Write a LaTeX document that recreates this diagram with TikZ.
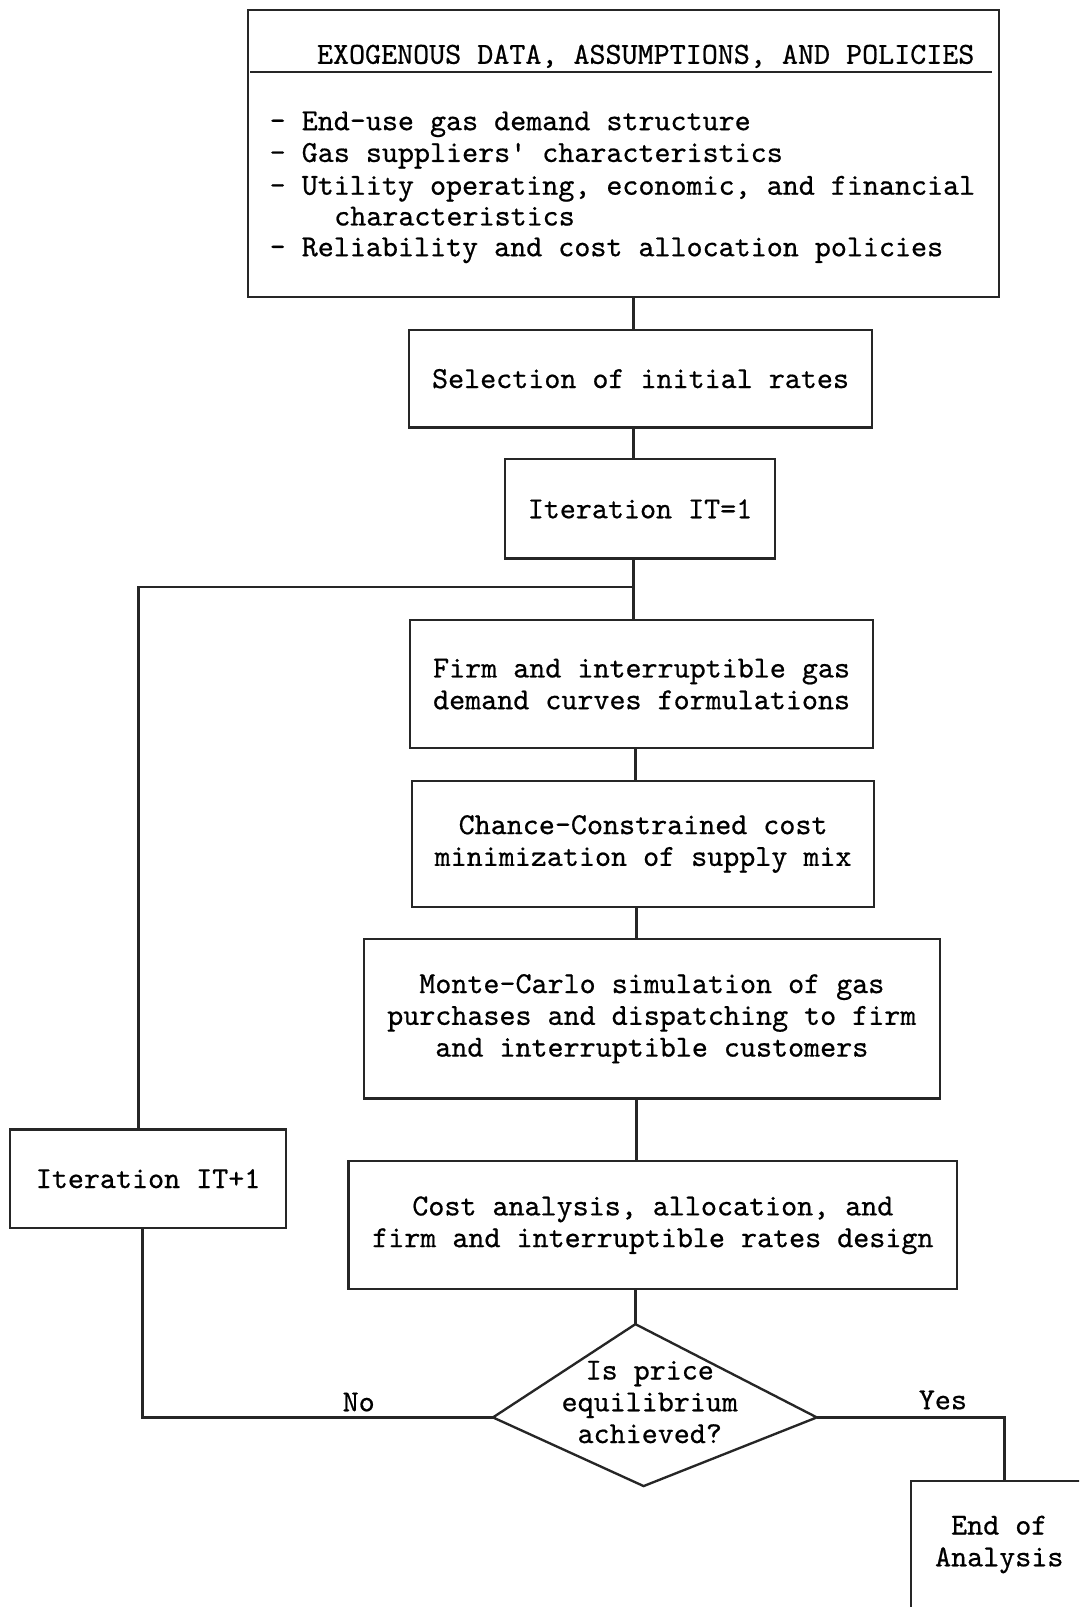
\documentclass[tikz,border=0pt]{standalone}
\usepackage{fontspec}
\usetikzlibrary{shapes.geometric}
\newfontfamily\tyface{lmmono10-regular.otf}[FakeBold=0.6]
\newcommand\tyfont{\tyface\fontsize{29.8}{31}\selectfont}
\begin{document}
\begin{tikzpicture}[x=1pt,y=-1pt,
  line width=2.3pt, draw=black!85,
  box/.style={draw=black!85, rectangle, inner sep=0pt, align=center, font=\tyfont},
  lbl/.style={font=\tyfont, inner sep=0pt},
  lline/.style={font=\tyfont, inner sep=0pt, anchor=base west}]
\useasboundingbox (0,0) rectangle (1053,1568);
\clip (0,0) rectangle (1053,1568);
% column coordinates
\coordinate (x618) at (618,0);
\coordinate (x620) at (620,0);
\coordinate (x621) at (621,0);
\coordinate (lx) at (135,573);
\coordinate (jn) at (618,573);
\coordinate (nx) at (139,0);
\coordinate (ex) at (980,0);
% top box
\node[box, minimum width=733pt, minimum height=280pt] (exo) at (608.5,150) {};
\node[lbl] (exoh) at (630,55) {EXOGENOUS DATA, ASSUMPTIONS, AND POLICIES};
\coordinate (ul1) at (244,70);
\coordinate (ul2) at (968,70);
\draw[line width=1.6pt] (ul1) -- (ul2);
\node[lline] (l1) at (262,127) {- End-use gas demand structure};
\node[lline] (l2) at (262,158) {- Gas suppliers' characteristics};
\node[lline] (l3) at (262,190) {- Utility operating, economic, and financial};
\node[lline] (l4) at (325,220) {characteristics};
\node[lline] (l5) at (262,250) {- Reliability and cost allocation policies};
% process boxes
\node[box, minimum width=452pt, minimum height=95pt] (sel) at (625,369.5) {Selection of initial rates};
\node[box, minimum width=263pt, minimum height=97pt] (it1) at (624.5,496.5) {Iteration IT=1};
\node[box, minimum width=452pt, minimum height=125pt] (firm) at (626,667.5) {Firm and interruptible gas\\demand curves formulations};
\node[box, minimum width=451pt, minimum height=123pt] (chance) at (627.5,823.5) {Chance-Constrained cost\\minimization of supply mix};
\node[box, minimum width=562pt, minimum height=156pt] (monte) at (636,994) {Monte-Carlo simulation of gas\\purchases and dispatching to firm\\and interruptible customers};
\node[box, minimum width=594pt, minimum height=125pt] (cost) at (637,1195.5) {Cost analysis, allocation, and\\firm and interruptible rates design};
\node[box, minimum width=269pt, minimum height=96pt] (itp) at (144.5,1150) {Iteration IT+1};
\node[box, minimum width=172pt, minimum height=124pt] (endn) at (975,1507) {End of\\Analysis};
% decision diamond
\coordinate (dt) at (620,1292);
\coordinate (dr) at (797,1383);
\coordinate (db) at (628,1450);
\coordinate (dl) at (481,1383);
\draw (dt) -- (dr) -- (db) -- (dl) -- cycle;
\node[lbl, align=center] (dec) at (634,1368) {Is price\\equilibrium\\achieved?};
% connectors
\draw (exo.south -| x618) -- (sel.north -| x618);
\draw (sel.south -| x618) -- (it1.north -| x618);
\draw (it1.south -| x618) -- (firm.north -| x618);
\draw (itp.north -| lx) -- (lx) -- (jn);
\draw (firm.south -| x620) -- (chance.north -| x620);
\draw (chance.south -| x621) -- (monte.north -| x621);
\draw (monte.south -| x621) -- (cost.north -| x621);
\draw (cost.south -| dt) -- (dt);
\draw (dl) -- (dl -| nx) -- (itp.south -| nx);
\draw (dr) -- (dr -| ex) -- (endn.north -| ex);
\node[lbl] (no) at (350,1368) {No};
\node[lbl] (yes) at (920,1366) {Yes};
\end{tikzpicture}
\end{document}
